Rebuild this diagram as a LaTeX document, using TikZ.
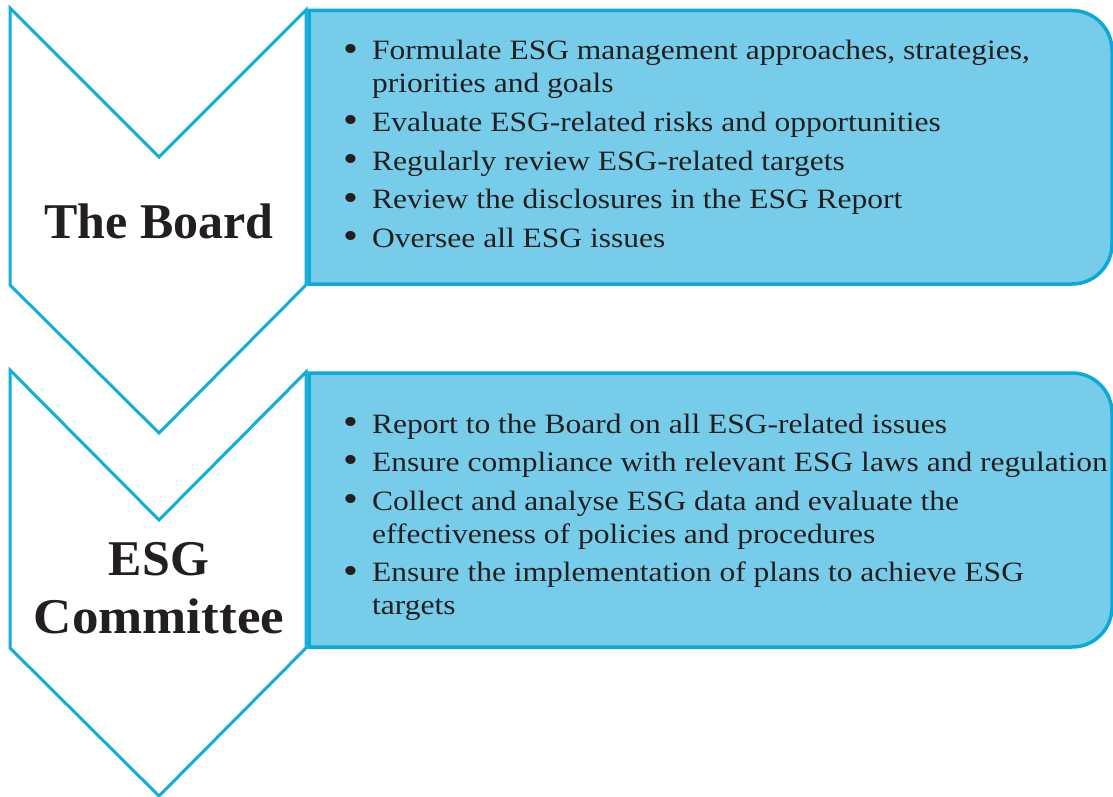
\documentclass[tikz,border=0pt]{standalone}
\usepackage{fontspec}
\usepackage{graphicx}
\setmainfont{Liberation Serif}
\newfontfamily\bodyfont{Liberation Serif}[FakeStretch=1.125]
\definecolor{chevline}{HTML}{12AEDB}
\definecolor{panelline}{HTML}{0AA9D6}
\definecolor{panelfill}{HTML}{77CDE9}
\definecolor{ink}{HTML}{231F20}
\newcommand\blt{\raisebox{-0.04em}{\scalebox{1.35}{\textbullet}}}
\tikzset{
  chev/.style={draw=chevline, line width=3pt, fill=white, line join=miter},
  panel/.style={draw=panelline, line width=3.5pt, fill=panelfill},
  title/.style={font=\bfseries\fontsize{50}{58}\selectfont, align=center, text=ink, inner sep=0pt},
  items/.style={font=\bodyfont\fontsize{28}{32.5}\selectfont, text=ink, inner sep=0pt, anchor=base west},
}
\begin{document}
\begin{tikzpicture}[x=1pt,y=-1pt]
  \useasboundingbox (0,0) rectangle (1113,797);

  % blue panels, square on the left, rounded on the right
  \draw[panel] (309,284) -- (309,10.5) -- (1072,10.5)
    arc[start angle=-90, end angle=0, radius=40] -- (1112,244)
    arc[start angle=0, end angle=90, radius=40] -- cycle;
  \draw[panel] (309,647) -- (309,373) -- (1072,373)
    arc[start angle=-90, end angle=0, radius=40] -- (1112,607)
    arc[start angle=0, end angle=90, radius=40] -- cycle;

  % downward chevrons
  \draw[chev] (10,8) -- (159,157) -- (306,10) -- (306,285) -- (159,433) -- (10,285) -- cycle;
  \draw[chev] (10,370) -- (159,520) -- (306,372) -- (306,648) -- (159,796) -- (10,648) -- cycle;

  % chevron titles
  \node[title, anchor=base] (board) at (159,238) {The Board};
  \node[title, anchor=base] (committee) at (159,633)
    {ESG\\\addfontfeature{FakeStretch=1.06}Committee};

  % duties of the Board
  \node[items] (boardlist) at (343,60) {%
    \begin{tabular}[t]{@{}p{29pt}@{}l@{}}
      \blt & Formulate ESG management approaches, strategies,\\
           & priorities and goals\\[6.3pt]
      \blt & Evaluate ESG-related risks and opportunities\\[6.3pt]
      \blt & Regularly review ESG-related targets\\[6.3pt]
      \blt & Review the disclosures in the ESG Report\\[6.3pt]
      \blt & Oversee all ESG issues
    \end{tabular}};

  % duties of the ESG Committee
  \node[items] (committeelist) at (343,433) {%
    \begin{tabular}[t]{@{}p{29pt}@{}l@{}}
      \blt & Report to the Board on all ESG-related issues\\[6.3pt]
      \blt & Ensure compliance with relevant ESG laws and regulation\\[6.3pt]
      \blt & Collect and analyse ESG data and evaluate the\\
           & effectiveness of policies and procedures\\[6.3pt]
      \blt & Ensure the implementation of plans to achieve ESG\\
           & targets
    \end{tabular}};
\end{tikzpicture}
\end{document}
